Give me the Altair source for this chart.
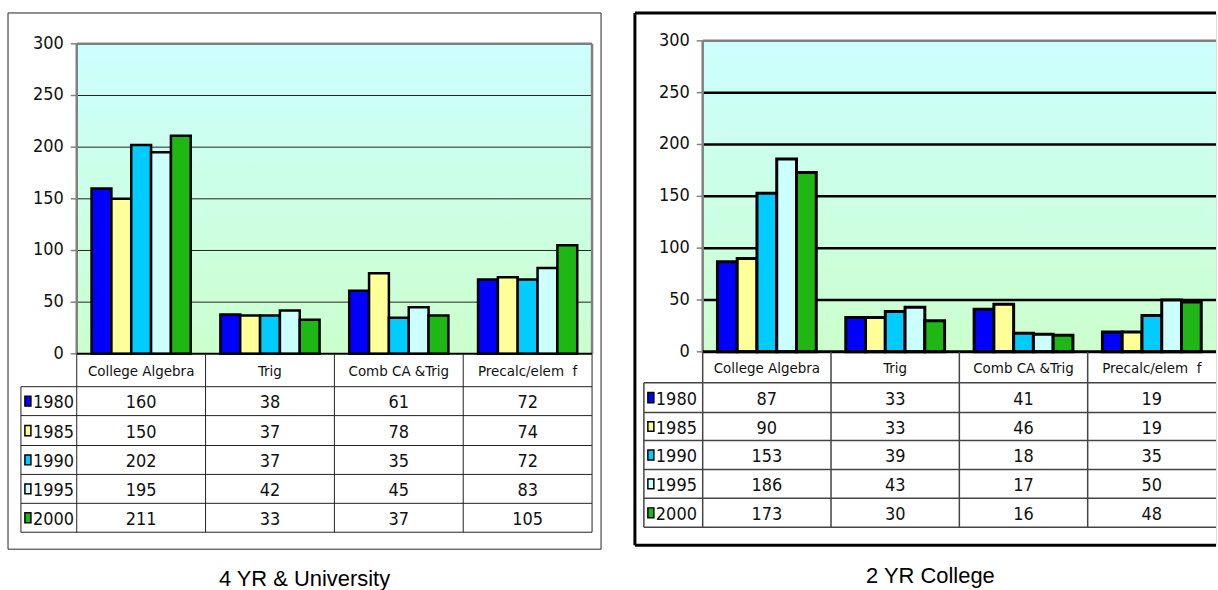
import altair as alt
import pandas as pd

# ---------------------------------------------------------------- data
categories = ["College Algebra", "Trig", "Comb CA &Trig", "Precalc/elem\u00a0\u00a0f"]
years = ["1980", "1985", "1990", "1995", "2000"]
year_colors = ["#0000FF", "#FFFF99", "#00CCFF", "#CCFFFF", "#1FB714"]

# 4 YR & University, one list per year in category order
univ_1980 = [160, 38, 61, 72]
univ_1985 = [150, 37, 78, 74]
univ_1990 = [202, 37, 35, 72]
univ_1995 = [195, 42, 45, 83]
univ_2000 = [211, 33, 37, 105]

# 2 YR College, one list per year in category order
coll_1980 = [87, 33, 41, 19]
coll_1985 = [90, 33, 46, 19]
coll_1990 = [153, 39, 18, 35]
coll_1995 = [186, 43, 17, 50]
coll_2000 = [173, 30, 16, 48]

y_ticks = [0, 50, 100, 150, 200, 250, 300]

# ---------------------------------------------------------------- styling
NARROW = "Liberation Sans Narrow, Arial Narrow, DejaVu Sans Condensed, Liberation Sans"
TITLE_FONT = "Liberation Sans, Arial"
BAR_START = 0.115   # gap before the first bar of a category (category units)
BAR_W = 0.154       # width of one bar (category units)

geo_left = dict(W=595, H=538, plot_left=69, plot_right=586, top=31, zero=342,
                head_left=13, row_edges=[342, 375, 404, 434, 463, 492, 521],
                right_open=False)
geo_right = dict(W=583, H=534, plot_left=68, plot_right=583, top=28, zero=340,
                 head_left=9, row_edges=[340, 371, 401, 429, 458, 487, 516],
                 right_open=True)

sty_left = dict(frame="#333333", frame_w=1, grid="#222222", grid_w=1,
                table="#222222", table_w=1, bar_w=2.5, zero_w=2,
                title_offset=19, title_dx=0)
sty_right = dict(frame="#000000", frame_w=3, grid="#000000", grid_w=2.5,
                 table="#444444", table_w=1.5, bar_w=3, zero_w=3,
                 title_offset=19, title_dx=5)


def build_panel(series, title, geo, sty):
    pl, pr = geo["plot_left"], geo["plot_right"]
    col_px = (pr - pl) / len(categories)
    hw = (pl - geo["head_left"]) / col_px          # row-header column width in category units
    ncat = len(categories)

    x_scale = alt.Scale(domain=[0, ncat], range=[pl, pr], nice=False, zero=False)
    v_scale = alt.Scale(domain=[0, 300], range=[geo["zero"], geo["top"]], nice=False, zero=False)
    r_scale = alt.Scale(domain=list(range(7)), range=geo["row_edges"], nice=False, zero=False)
    fill_scale = alt.Scale(domain=years, range=year_colors)

    # ---------------- value (bar) part
    bg = alt.Chart(pd.DataFrame([{"x0": 0, "x1": ncat, "v0": 0, "v1": 300}])).mark_rect(
        fill=alt.Gradient(gradient="linear",
                          stops=[alt.GradientStop(color="#CCFFFF", offset=0),
                                 alt.GradientStop(color="#CCFFCC", offset=1)],
                          x1=0, x2=0, y1=0, y2=1)
    ).encode(x=alt.X("x0:Q", scale=x_scale, axis=None), x2="x1:Q",
             y=alt.Y("v0:Q", scale=v_scale, axis=None), y2="v1:Q")

    grid = alt.Chart(pd.DataFrame({"v": y_ticks[1:-1]})).mark_rule(
        color=sty["grid"], strokeWidth=sty["grid_w"]
    ).encode(x=alt.X("x0:Q", scale=x_scale, axis=None), x2="x1:Q",
             y=alt.Y("v:Q", scale=v_scale, axis=None)).transform_calculate(
        x0="0", x1=str(ncat))

    border_segs = [{"x0": 0, "x1": ncat, "v0": 300, "v1": 300},
                   {"x0": 0, "x1": 0, "v0": 0, "v1": 300}]
    if not geo["right_open"]:
        border_segs.append({"x0": ncat, "x1": ncat, "v0": 0, "v1": 300})
    border = alt.Chart(pd.DataFrame(border_segs)).mark_rule(
        color="#808080", strokeWidth=2.5
    ).encode(x=alt.X("x0:Q", scale=x_scale, axis=None), x2="x1:Q",
             y=alt.Y("v0:Q", scale=v_scale, axis=None), y2="v1:Q")

    bar_rows = []
    for j, (yr, vals) in enumerate(zip(years, series)):
        for i, cat in enumerate(categories):
            bar_rows.append({"cat": cat, "ci": i, "year": yr, "yi": j, "value": vals[i]})
    bars = alt.Chart(pd.DataFrame(bar_rows)).transform_calculate(
        x0=f"datum.ci + {BAR_START} + datum.yi * {BAR_W}",
        x1=f"datum.ci + {BAR_START} + (datum.yi + 1) * {BAR_W}",
    ).mark_rect(stroke="#000000", strokeWidth=sty["bar_w"]).encode(
        x=alt.X("x0:Q", scale=x_scale, axis=None), x2="x1:Q",
        y=alt.Y("value:Q", scale=v_scale, axis=None), y2=alt.datum(0),
        fill=alt.Fill("year:N", scale=fill_scale, legend=None),
    )

    zero_line = alt.Chart(pd.DataFrame([{"x0": 0, "x1": ncat, "v": 0}])).mark_rule(
        color="#000000", strokeWidth=sty["zero_w"]
    ).encode(x=alt.X("x0:Q", scale=x_scale, axis=None), x2="x1:Q",
             y=alt.Y("v:Q", scale=v_scale, axis=None))

    tick_df = pd.DataFrame({"v": y_ticks})
    ticks = alt.Chart(tick_df).mark_rule(color="#808080", strokeWidth=1.5).encode(
        x=alt.value(pl - 6), x2=alt.value(pl),
        y=alt.Y("v:Q", scale=v_scale, axis=None))
    tick_labels = alt.Chart(tick_df).mark_text(
        align="right", baseline="middle", font=NARROW, fontSize=18, color="#111111"
    ).encode(x=alt.value(pl - 13), y=alt.Y("v:Q", scale=v_scale, axis=None),
             text=alt.Text("v:Q"))

    value_part = alt.layer(bg, grid, border, bars, zero_line, ticks, tick_labels)

    # ---------------- data table part
    h_segs = [{"x0": -hw, "x1": ncat, "r": r} for r in range(1, 7)]
    hlines = alt.Chart(pd.DataFrame(h_segs)).mark_rule(
        color=sty["table"], strokeWidth=sty["table_w"]
    ).encode(x=alt.X("x0:Q", scale=x_scale, axis=None), x2="x1:Q",
             y=alt.Y("r:Q", scale=r_scale, axis=None))

    v_segs = [{"x": -hw, "r0": 1, "r1": 6}]
    v_cols = range(ncat) if geo["right_open"] else range(ncat + 1)
    v_segs += [{"x": c, "r0": 0, "r1": 6} for c in v_cols]
    vlines = alt.Chart(pd.DataFrame(v_segs)).mark_rule(
        color=sty["table"], strokeWidth=sty["table_w"]
    ).encode(x=alt.X("x:Q", scale=x_scale, axis=None),
             y=alt.Y("r0:Q", scale=r_scale, axis=None), y2="r1:Q")

    head_df = pd.DataFrame({"cat": categories, "xc": [i + 0.5 for i in range(ncat)],
                            "r": [0.5] * ncat})
    heads = alt.Chart(head_df).mark_text(
        align="center", baseline="middle", font=NARROW, fontSize=15, color="#111111", dy=1
    ).encode(x=alt.X("xc:Q", scale=x_scale, axis=None),
             y=alt.Y("r:Q", scale=r_scale, axis=None), text="cat:N")

    year_df = pd.DataFrame({"year": years,
                            "r": [k + 1.5 for k in range(len(years))],
                            "k0": [k + 1.33 for k in range(len(years))],
                            "k1": [k + 1.67 for k in range(len(years))]})
    hl = geo["head_left"]
    keys = alt.Chart(year_df).mark_rect(stroke="#000000", strokeWidth=1.5).encode(
        x=alt.value(hl + 4), x2=alt.value(hl + 10),
        y=alt.Y("k0:Q", scale=r_scale, axis=None), y2="k1:Q",
        fill=alt.Fill("year:N", scale=fill_scale, legend=None))
    year_text = alt.Chart(year_df).mark_text(
        align="left", baseline="middle", font=NARROW, fontSize=18, color="#111111", dy=2
    ).encode(x=alt.value(hl + 12), y=alt.Y("r:Q", scale=r_scale, axis=None),
             text="year:N")

    cell_rows = []
    for j, (yr, vals) in enumerate(zip(years, series)):
        for i, cat in enumerate(categories):
            cell_rows.append({"xc": i + 0.5, "r": j + 1.5, "value": vals[i]})
    cells = alt.Chart(pd.DataFrame(cell_rows)).mark_text(
        align="center", baseline="middle", font=NARROW, fontSize=18, color="#111111", dy=2
    ).encode(x=alt.X("xc:Q", scale=x_scale, axis=None),
             y=alt.Y("r:Q", scale=r_scale, axis=None), text=alt.Text("value:Q"))

    table_part = alt.layer(hlines, vlines, heads, keys, year_text, cells)

    # ---------------- outer frame
    W, H = geo["W"], geo["H"]
    fw = sty["frame_w"]
    frame_layers = [
        alt.Chart(pd.DataFrame([{"k": 0}])).mark_rule(color=sty["frame"], strokeWidth=fw).encode(
            x=alt.value(0), x2=alt.value(W), y=alt.value(0)),
        alt.Chart(pd.DataFrame([{"k": 0}])).mark_rule(color=sty["frame"], strokeWidth=fw).encode(
            x=alt.value(0), x2=alt.value(W), y=alt.value(H)),
        alt.Chart(pd.DataFrame([{"k": 0}])).mark_rule(color=sty["frame"], strokeWidth=fw).encode(
            x=alt.value(0), y=alt.value(0), y2=alt.value(H)),
    ]
    if not geo["right_open"]:
        frame_layers.append(
            alt.Chart(pd.DataFrame([{"k": 0}])).mark_rule(color=sty["frame"], strokeWidth=fw).encode(
                x=alt.value(W), y=alt.value(0), y2=alt.value(H)))
    frame = alt.layer(*frame_layers)

    return alt.layer(value_part, table_part, frame).resolve_scale(y="independent").properties(
        width=W, height=H,
        title=alt.TitleParams(text=title, orient="bottom", anchor="middle",
                              offset=sty["title_offset"], dx=sty["title_dx"],
                              font=TITLE_FONT, fontSize=22, fontWeight="normal",
                              color="#000000"),
    )


left = build_panel([univ_1980, univ_1985, univ_1990, univ_1995, univ_2000],
                   "4 YR & University", geo_left, sty_left)
right = build_panel([coll_1980, coll_1985, coll_1990, coll_1995, coll_2000],
                    "2 YR College", geo_right, sty_right)

chart = alt.hconcat(left, right, spacing=31).properties(
    padding={"left": 7, "top": 10, "right": 0, "bottom": 0}
).configure_view(strokeWidth=0).configure(background="#FFFFFF")

chart.save("out.html", embed_options={"renderer": "svg", "actions": False})
